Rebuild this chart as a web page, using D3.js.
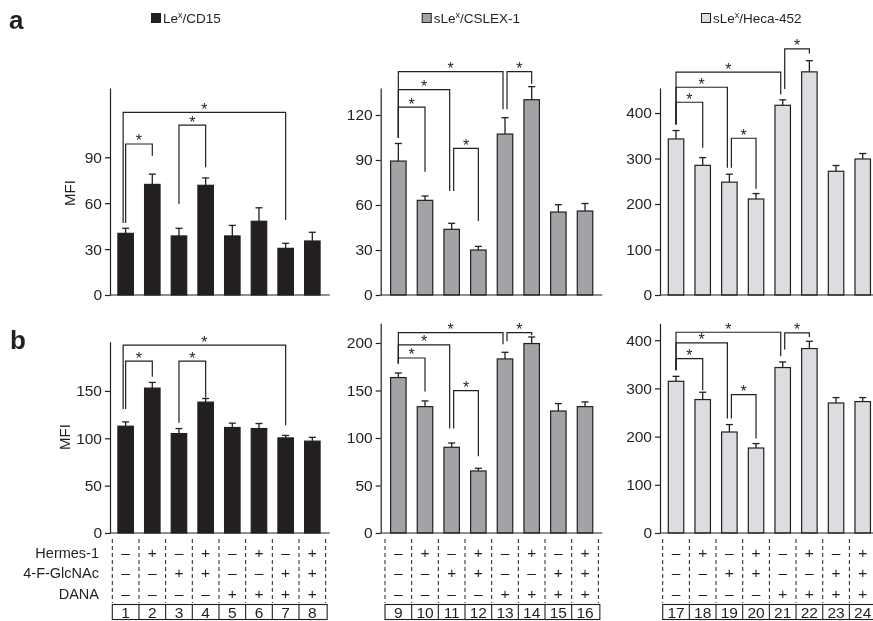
<!DOCTYPE html>
<html><head><meta charset="utf-8">
<script src="https://cdn.jsdelivr.net/npm/d3@7"></script>
<style>
body{margin:0;background:#fff;}
svg{will-change:transform;}
text{font-family:"Liberation Sans",Arial,Helvetica,sans-serif;fill:#231f20;}
</style></head>
<body><svg id="c" width="873" height="621"></svg>
<script>
// ---------------- DATA ----------------
const laneLabels = ["1","2","3","4","5","6","7","8","9","10","11","12","13","14","15","16","17","18","19","20","21","22","23","24"];
const hermes1 = ["–","+","–","+","–","+","–","+"];
const glcnac  = ["–","–","+","+","–","–","+","+"];
const dana    = ["–","–","–","–","+","+","+","+"];
const rowLabels = ["Hermes-1","4-F-GlcNAc","DANA"];
const seriesNames = ["Le|x|/CD15","sLe|x|/CSLEX-1","sLe|x|/Heca-452"];

// panel a (mean, error)
const aLex      = [40.3, 72.3, 38.6, 71.7, 38.6, 48.2, 30.5, 35.3];
const aLexErr   = [3.3, 6.7, 5.0, 4.8, 6.9, 8.8, 3.3, 5.7];
const aCslex    = [89.3, 63.1, 43.8, 30.0, 107.3, 130.2, 55.3, 56.0];
const aCslexErr = [11.7, 2.9, 4.0, 2.4, 10.9, 8.7, 4.9, 5.0];
const aHeca     = [343, 285, 248, 211, 417, 490.5, 272, 299];
const aHecaErr  = [18.5, 17, 17.5, 12, 12, 24.5, 12.6, 12];
// panel b
const bLex      = [112.8, 153, 105, 138.2, 111.4, 110.3, 100.4, 97];
const bLexErr   = [4.5, 6, 5.3, 3.8, 4.6, 5.3, 2.6, 4];
const bCslex    = [163.6, 133, 90.2, 65.3, 183.2, 199.4, 128.4, 133];
const bCslexErr = [4.8, 6, 4.5, 2.8, 7, 6.9, 7.8, 5];
const bHeca     = [314.7, 276.8, 209.5, 176.3, 343.2, 382.6, 269.7, 272.6];
const bHecaErr  = [10.3, 15.2, 15.4, 9.2, 11.6, 15.1, 11.2, 8.3];

// y-axis ticks and maxima
const aLexTicks = [0,30,60,90],     aLexMax = 135.3;
const aCslexTicks = [0,30,60,90,120], aCslexMax = 138;
const aHecaTicks = [0,100,200,300,400], aHecaMax = 455;
const bLexTicks = [0,50,100,150],   bLexMax = 202;
const bCslexTicks = [0,50,100,150,200], bCslexMax = 220.7;
const bHecaTicks = [0,100,200,300,400], bHecaMax = 435;

// significance brackets: [fromBar, toBar, topValue, leftLegEndValue, rightLegEndValue]
const aLexBr   = [[0,1,98.7,47,91],[2,3,111,59.5,83.5],[0,6,119.4,47,49]];
const aCslexBr = [[0,1,125.3,104.9,82.2],[0,2,136.9,104.9,69.3],[0,4,148.9,104.9,123.8],[2,3,97.8,69.3,49.3],[4,5,148.9,123.8,140.9]];
const aHecaBr  = [[0,1,423.7,374.7,323.5],[0,2,456.7,374.7,279.6],[0,4,489.7,374.7,440.7],[2,3,344.6,279.6,233.4],[4,5,541,453,530.8]];
const bLexBr   = [[0,1,181.5,131,165],[2,3,181.5,116.3,143.1],[0,6,198.4,131,113.8]];
const bCslexBr = [[0,1,184.2,178.3,148.8],[0,2,197.9,178.3,109.9],[0,4,210.8,178.3,198.6],[2,3,149.9,109.9,80.7],[4,5,210.8,201.8,208]];
const bHecaBr  = [[0,1,361.8,337.6,296],[0,2,394.2,337.6,237.3],[0,4,416.4,337.6,366.6],[2,3,287.1,237.3,195.9],[4,5,415,380.5,406.6]];

// ---------------- LAYOUT ----------------
const INK = "#231f20";
const fills = ["#231f20","#a2a3a6","#dcdde0"];
const axisX = [110, 380.7, 660];
const cellStart = [112.3, 385, 662.7];
const cellW = 26.67;
const rowsCfg = [
  {zero:295, tops:[88,88,88], data:[[aLex,aLexErr,aLexTicks,aLexMax,aLexBr],[aCslex,aCslexErr,aCslexTicks,aCslexMax,aCslexBr],[aHeca,aHecaErr,aHecaTicks,aHecaMax,aHecaBr]], mfi:[70,193]},
  {zero:533, tops:[341.7,323.3,323.3], data:[[bLex,bLexErr,bLexTicks,bLexMax,bLexBr],[bCslex,bCslexErr,bCslexTicks,bCslexMax,bCslexBr],[bHeca,bHecaErr,bHecaTicks,bHecaMax,bHecaBr]], mfi:[65,437]}
];

const svg = d3.select("#c");
svg.append("rect").attr("width",873).attr("height",621).attr("fill","#fff");

// panel letters
svg.append("text").attr("x",9).attr("y",29).attr("font-size",26).attr("font-weight","bold").text("a");
svg.append("text").attr("x",10).attr("y",349).attr("font-size",26).attr("font-weight","bold").text("b");

// legends
seriesNames.forEach((nm,i)=>{
  const lx = axisX[i]+41, ly = 13;
  svg.append("rect").attr("x",lx+0.5).attr("y",ly+0.5).attr("width",9).attr("height",9)
     .attr("fill",fills[i]).attr("stroke",INK).attr("stroke-width",1);
  const parts = nm.split("|");
  const t = svg.append("text").attr("x",lx+12).attr("y",ly+10).attr("font-size",13.5);
  t.append("tspan").text(parts[0]);
  t.append("tspan").attr("dy",-5).attr("font-size",9).text(parts[1]);
  t.append("tspan").attr("dy",5).text(parts[2]);
});

rowsCfg.forEach((row,r)=>{
  row.data.forEach((d,c)=>{
    const [vals,errs,ticks,ymax,brs] = d;
    const labels = laneLabels.slice(c*8, c*8+8);
    const x = d3.scaleBand().domain(labels).range([cellStart[c], cellStart[c]+8*cellW]).paddingInner(0.42).paddingOuter(0.21);
    const y = d3.scaleLinear().domain([0,ymax]).range([row.zero, row.tops[c]]);
    const g = svg.append("g");
    // bars
    g.selectAll("rect.bar").data(vals).join("rect")
      .attr("x",(v,i)=>x(labels[i])).attr("width",x.bandwidth())
      .attr("y",v=>y(v)).attr("height",v=>row.zero-y(v))
      .attr("fill",fills[c]).attr("stroke",INK).attr("stroke-width",1.2);
    // error bars
    vals.forEach((v,i)=>{
      const cx = x(labels[i])+x.bandwidth()/2;
      const yt = y(v+errs[i]);
      g.append("line").attr("x1",cx).attr("x2",cx).attr("y1",y(v)).attr("y2",yt).attr("stroke",INK).attr("stroke-width",1.3);
      g.append("line").attr("x1",cx-3.5).attr("x2",cx+3.5).attr("y1",yt).attr("y2",yt).attr("stroke",INK).attr("stroke-width",1.3);
    });
    // y axis
    const ax = g.append("g").attr("transform",`translate(${axisX[c]},0)`)
      .call(d3.axisLeft(y).tickValues(ticks).tickSize(5).tickSizeOuter(0).tickPadding(3));
    ax.selectAll("path,line").attr("stroke",INK).attr("stroke-width",1.2);
    ax.selectAll("text").attr("font-size",15.5).attr("fill",INK).style("font-family","'Liberation Sans',Arial,sans-serif");
    // x axis line
    g.append("line").attr("x1",axisX[c]).attr("x2",cellStart[c]+8*cellW+4)
      .attr("y1",row.zero).attr("y2",row.zero).attr("stroke",INK).attr("stroke-width",1.2);
    // brackets
    const starts = brs.map(b=>b[0]), ends = brs.map(b=>b[1]);
    brs.forEach(b=>{
      const [i0,i1,top,le,re] = b;
      let xl = x(labels[i0])+x.bandwidth()/2, xr = x(labels[i1])+x.bandwidth()/2;
      if (ends.includes(i0)) xl += 2;
      if (i1-i0>=6) xl -= 2.5;
      if (starts.includes(i1)) xr -= 2;
      g.append("path").attr("d",`M${xl},${y(le)}V${y(top)}H${xr}V${y(re)}`)
        .attr("fill","none").attr("stroke",INK).attr("stroke-width",1.2);
      g.append("text").attr("x",(xl+xr)/2).attr("y",y(top)+2.5).attr("text-anchor","middle")
        .attr("font-size",16).text("*");
    });
    // MFI label
    if (c===0){
      svg.append("text").attr("transform",`translate(${row.mfi[0]+5},${row.mfi[1]}) rotate(-90)`)
        .attr("text-anchor","middle").attr("font-size",15).text("MFI");
    }
    // table (only bottom row)
    if (r===1){
      const cell = d3.scaleBand().domain(labels).range([cellStart[c], cellStart[c]+8*cellW]);
      const bounds = labels.map(l=>cell(l)).concat([cellStart[c]+8*cellW]);
      bounds.forEach(bx=>{
        svg.append("line").attr("x1",bx).attr("x2",bx).attr("y1",539).attr("y2",603)
          .attr("stroke",INK).attr("stroke-width",1).attr("stroke-dasharray","4,3");
      });
      [hermes1,glcnac,dana].forEach((arr,k)=>{
        arr.forEach((s,i)=>{
          svg.append("text").attr("x",cell(labels[i])+cell.bandwidth()/2).attr("y",557.5+k*20.5)
            .attr("text-anchor","middle").attr("font-size",15.5).text(s);
        });
      });
      svg.append("rect").attr("x",cellStart[c]).attr("y",604.5).attr("width",8*cellW+1.5).attr("height",15)
        .attr("fill","none").attr("stroke",INK).attr("stroke-width",1.1);
      bounds.slice(1,8).forEach(bx=>{
        svg.append("line").attr("x1",bx).attr("x2",bx).attr("y1",604.5).attr("y2",619.5).attr("stroke",INK).attr("stroke-width",1.1);
      });
      labels.forEach(l=>{
        svg.append("text").attr("x",cell(l)+cell.bandwidth()/2).attr("y",618).attr("text-anchor","middle")
          .attr("font-size",15.5).text(l);
      });
      if (c===0){
        rowLabels.forEach((t,k)=>{
          svg.append("text").attr("x",99).attr("y",557.5+k*20.5).attr("text-anchor","end").attr("font-size",14.5).text(t);
        });
      }
    }
  });
});
</script></body></html>
